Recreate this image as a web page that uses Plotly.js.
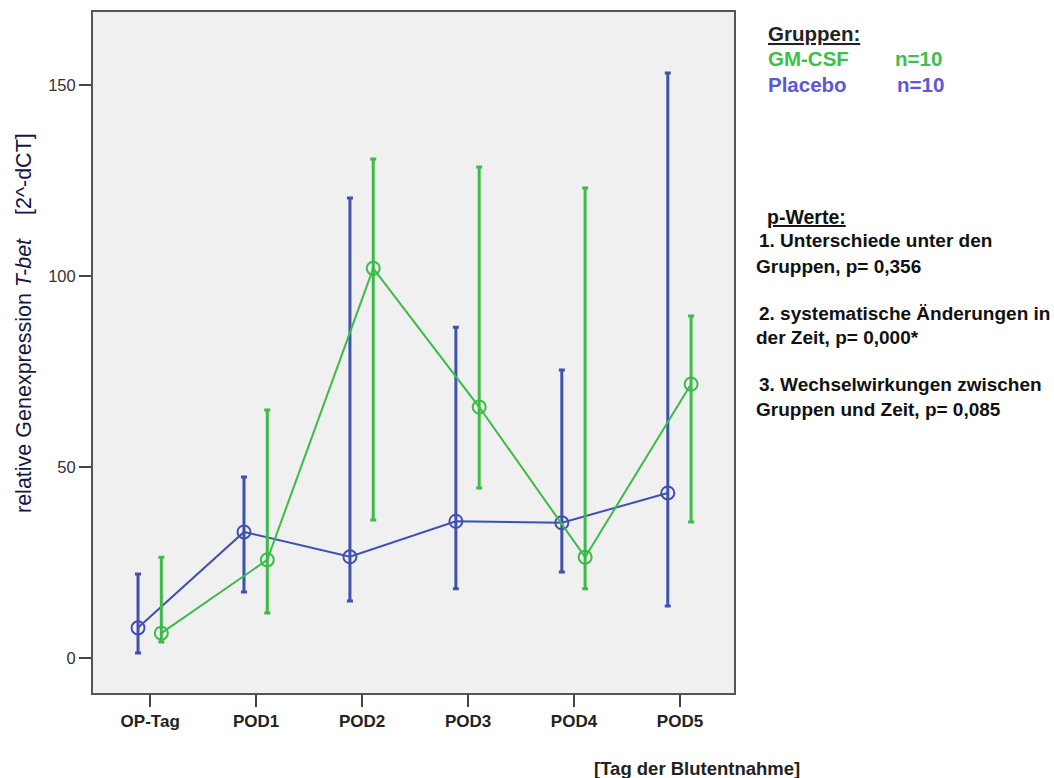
<!DOCTYPE html>
<html>
<head>
<meta charset="utf-8">
<script src="https://cdn.plot.ly/plotly-3.0.1.min.js"></script>
<style>html,body{margin:0;padding:0;background:#fff;}#chart{width:1054px;height:778px;}</style>
</head>
<body>
<div id="chart"></div>
<script>
const categories = ["OP-Tag", "POD1", "POD2", "POD3", "POD4", "POD5"];
const placeboMean = [7.9, 33.0, 26.5, 35.8, 35.4, 43.2];
const placeboUpper = [22.0, 47.4, 120.4, 86.6, 75.4, 153.1];
const placeboLower = [1.3, 17.3, 14.9, 18.1, 22.5, 13.6];
const gmcsfMean = [6.5, 25.7, 102.0, 65.7, 26.4, 71.7];
const gmcsfUpper = [26.4, 64.9, 130.6, 128.5, 123.0, 89.5];
const gmcsfLower = [4.2, 11.8, 36.1, 44.5, 18.1, 35.6];
const yTicks = [0, 50, 100, 150];

const W = 1054, H = 778;
const mL = 93, mR = 320, mT = 12, mB = 85;
const pw = W - mL - mR, ph = H - mT - mB;
const px = x => (x - mL) / pw;
const py = y => (H - mB - y) / ph;

const blue = "#3f51b0", green = "#3dbb48";
const idx = categories.map((c, i) => i);
function trace(mean, up, lo, off, color, name) {
  return {
    type: "scatter", mode: "lines+markers", name: name,
    x: idx.map(i => i + off), y: mean,
    line: {color: color, width: 2},
    marker: {symbol: "circle-open", size: 13, color: color, line: {width: 2, color: color}},
    error_y: {type: "data", symmetric: false,
      array: mean.map((m, i) => up[i] - m),
      arrayminus: mean.map((m, i) => m - lo[i]),
      color: color, thickness: 3, width: 3},
    showlegend: false
  };
}
const data = [
  trace(placeboMean, placeboUpper, placeboLower, -0.115, blue, "Placebo"),
  trace(gmcsfMean, gmcsfUpper, gmcsfLower, 0.105, green, "GM-CSF")
];

const FAM = "Liberation Sans, Arial, sans-serif";
const txt = (x, y, text, opts) => Object.assign({
  xref: "paper", yref: "paper", x: px(x), y: py(y), xanchor: "left", yanchor: "middle",
  text: text, showarrow: false,
  font: {family: FAM, size: 15, color: "#111"}
}, opts || {});

const boldFont = (size, color) => ({family: FAM, size: size, color: color, weight: "bold"});

const annotations = [
  txt(24, 323, "relative Genexpression <i>T-bet</i>    [2^-dCT]", {xanchor: "center", textangle: -90,
    font: {family: FAM, size: 21.5, color: "#161640"}}),
  txt(697, 768, "<b>[Tag der Blutentnahme]</b>", {xanchor: "center", font: boldFont(18.5, "#222")}),
  txt(766, 33, "<b><u>Gruppen:</u></b>", {font: boldFont(20.5, "#222")}),
  txt(766, 59, "<b>GM-CSF</b>", {font: boldFont(20.5, "#3cc04a")}),
  txt(893, 59, "<b>n=10</b>", {font: boldFont(20.5, "#3cc04a")}),
  txt(766, 85, "<b>Placebo</b>", {font: boldFont(20.5, "#5a5ad6")}),
  txt(895, 85, "<b>n=10</b>", {font: boldFont(20.5, "#5a5ad6")}),
  txt(765, 217, "<b><u>p-Werte:</u></b>", {font: boldFont(19.5, "#111")}),
  txt(757, 241, "<b>1. Unterschiede unter den</b>", {font: boldFont(19, "#111")}),
  txt(754, 266, "<b>Gruppen, p= 0,356</b>", {font: boldFont(19, "#111")}),
  txt(757, 313, "<b>2. systematische Änderungen in</b>", {font: boldFont(19, "#111")}),
  txt(754, 338, "<b>der Zeit, p= 0,000*</b>", {font: boldFont(19, "#111")}),
  txt(757, 384, "<b>3. Wechselwirkungen zwischen</b>", {font: boldFont(19, "#111")}),
  txt(754, 409, "<b>Gruppen und Zeit, p= 0,085</b>", {font: boldFont(19, "#111")})
];

const layout = {
  width: W, height: H,
  margin: {l: mL, r: mR, t: mT, b: mB, pad: 0},
  paper_bgcolor: "#ffffff", plot_bgcolor: "#f0f0f0",
  showlegend: false,
  xaxis: {
    type: "linear", range: [-0.54, 5.51], tickmode: "array", tickvals: idx,
    ticktext: categories.map(c => "<b>" + c + "</b>"),
    showgrid: false, zeroline: false, showline: true, linecolor: "#555", linewidth: 2, mirror: true,
    ticks: "outside", ticklen: 12, tickwidth: 2, tickcolor: "#444",
    tickfont: {family: FAM, size: 17, color: "#222"}
  },
  yaxis: {
    range: [-9.16, 169.1], tickmode: "array", tickvals: yTicks,
    showgrid: false, zeroline: false, showline: true, linecolor: "#555", linewidth: 2, mirror: true,
    ticks: "outside", ticklen: 12, tickwidth: 1.5, tickcolor: "#444",
    tickfont: {family: FAM, size: 16.5, color: "#333"}
  },
  annotations: annotations
};

Plotly.newPlot("chart", data, layout, {staticPlot: true, displayModeBar: false});
</script>
</body>
</html>
